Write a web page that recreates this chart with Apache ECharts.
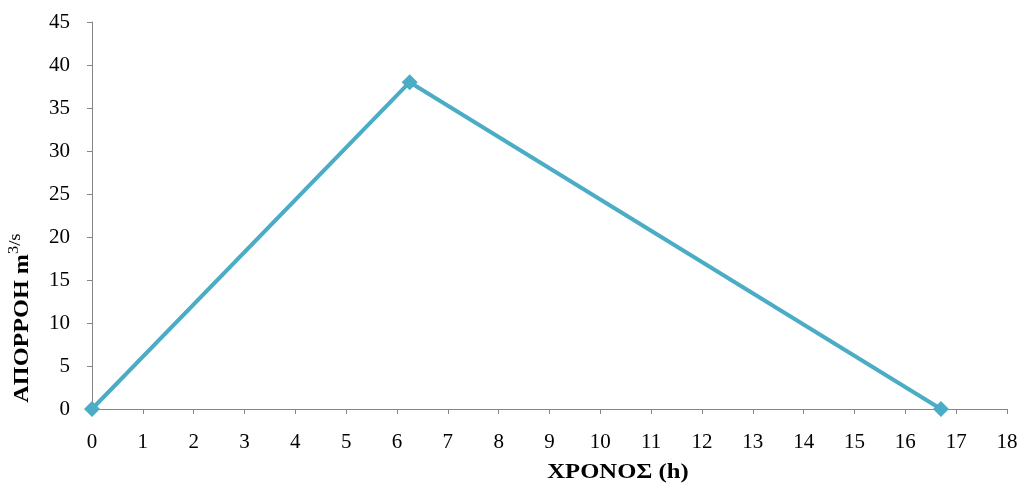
<!DOCTYPE html>
<html><head><meta charset="utf-8">
<script src="https://cdn.jsdelivr.net/npm/echarts@6/dist/echarts.min.js"></script>
<style>html,body{margin:0;padding:0;background:#fff}#c{width:1023px;height:486px}</style>
</head><body><div id="c"></div>
<script>
const timeH = [0, 6.25, 16.7];
const flow = [0, 38, 0];
const xTitle = 'ΧΡΟΝΟΣ (h)';
const yTitleMain = 'ΑΠΟΡΡΟΗ m';
const yTitleSup = '3';
const yTitleUnit = '/s';

const chart = echarts.init(document.getElementById('c'));
const font = 'Liberation Serif';
chart.setOption({
  animation: false,
  grid: {left: 92, right: 16, top: 22, bottom: 77},
  xAxis: {
    type: 'value', min: 0, max: 18, interval: 1,
    axisLine: {lineStyle: {color: '#868686', width: 1}},
    axisTick: {show: true, length: 5, lineStyle: {color: '#868686'}},
    splitLine: {show: false},
    axisLabel: {color: '#000', fontFamily: font, fontSize: 21, margin: 23}
  },
  yAxis: {
    type: 'value', min: 0, max: 45, interval: 5,
    axisLine: {show: true, lineStyle: {color: '#868686', width: 1}},
    axisTick: {show: true, length: 5, lineStyle: {color: '#868686'}},
    splitLine: {show: false},
    axisLabel: {color: '#000', fontFamily: font, fontSize: 21, margin: 22}
  },
  graphic: [
    {type: 'text', x: 618, y: 472, scaleX: 1.12,
     style: {text: xTitle, font: 'bold 22px "Liberation Serif"', fill: '#000', textAlign: 'center', textVerticalAlign: 'middle'}},
    {type: 'text', x: 20, y: 318, rotation: Math.PI / 2, scaleX: 1.1,
     style: {
       text: '{b|' + yTitleMain + '}{s|' + yTitleSup + '}{n|' + yTitleUnit + '}',
       textAlign: 'center', textVerticalAlign: 'middle', fill: '#000',
       rich: {
         b: {font: 'bold 22px "Liberation Serif"', fill: '#000', verticalAlign: 'bottom', lineHeight: 26},
         s: {font: '15px "Liberation Serif"', fill: '#000', verticalAlign: 'top', lineHeight: 26},
         n: {font: '17px "Liberation Serif"', fill: '#000', verticalAlign: 'top', lineHeight: 26}
       }
     }}
  ],
  series: [{
    type: 'line',
    data: timeH.map((t, i) => [t, flow[i]]),
    symbol: 'diamond', symbolSize: 16,
    lineStyle: {color: '#4BACC6', width: 4},
    itemStyle: {color: '#4BACC6'}
  }]
});
</script></body></html>
